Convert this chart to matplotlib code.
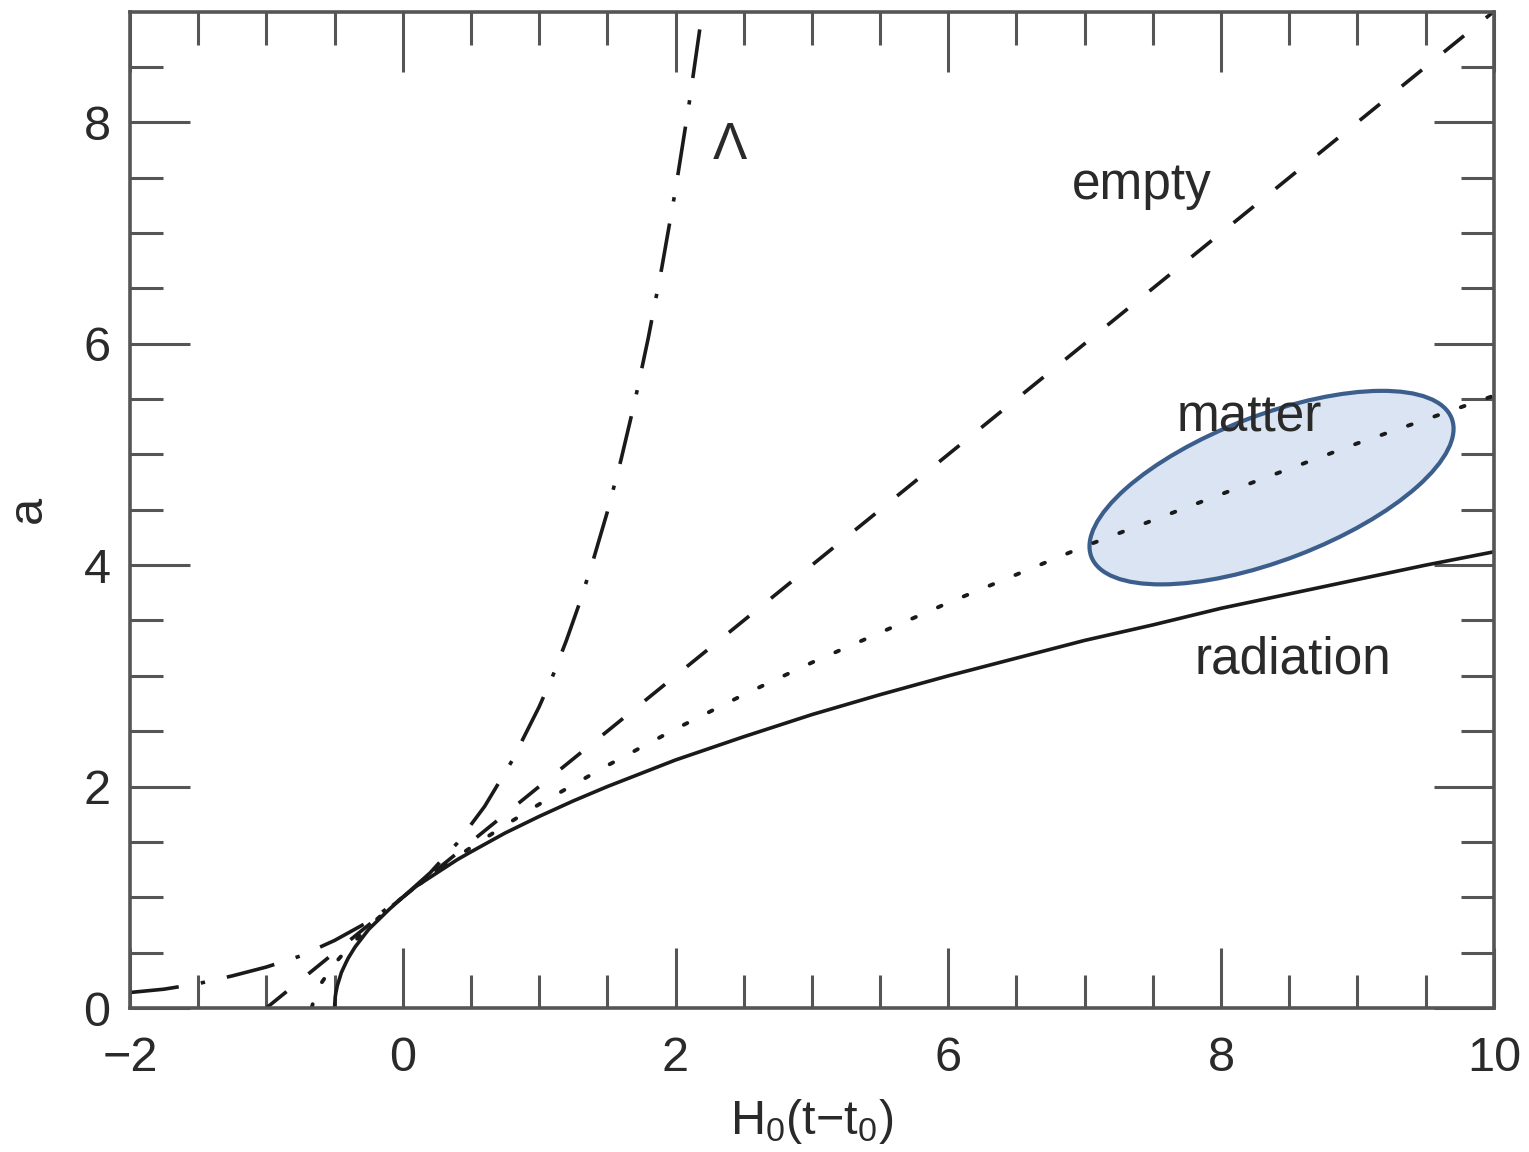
import matplotlib
matplotlib.use("Agg")
import matplotlib.pyplot as plt
from matplotlib.patches import Ellipse
from matplotlib.transforms import ScaledTranslation

plt.rcParams['font.family'] = ['Liberation Sans', 'DejaVu Sans']
plt.rcParams['mathtext.default'] = 'regular'

# values, x = H0(t - t0)
rad_x = [-0.5, -0.495, -0.49, -0.48, -0.47, -0.45, -0.42, -0.4, -0.35, -0.3, -0.25, -0.2, -0.1, 0, 0.1, 0.25, 0.4,
         0.5, 0.75, 1, 1.25, 1.5, 1.75, 2, 2.5, 3, 3.5, 4, 4.5, 5, 5.5, 6, 6.5, 7, 7.5, 8]
rad_a = [0.0, 0.10, 0.14, 0.20, 0.24, 0.32, 0.40, 0.45, 0.55, 0.63, 0.71, 0.77, 0.89, 1.0, 1.10, 1.22, 1.34,
         1.41, 1.58, 1.73, 1.87, 2.0, 2.12, 2.24, 2.45, 2.65, 2.83, 3.0, 3.16, 3.32, 3.46, 3.61, 3.74, 3.87, 4.0, 4.12]

mat_x = [-0.667, -0.65, -0.6, -0.5, -0.4, -0.3, -0.2, -0.1, 0, 0.25, 0.5, 0.75, 1, 1.5, 2, 2.5, 3, 4, 5, 6, 7, 8]
mat_a = [0.0, 0.09, 0.22, 0.40, 0.54, 0.67, 0.79, 0.90, 1.0, 1.24, 1.45, 1.65, 1.84, 2.19, 2.52, 2.83, 3.12, 3.66,
         4.17, 4.64, 5.10, 5.53]

emp_x = [-1, 0, 2, 4, 6, 8]
emp_a = [0, 1, 3, 5, 7, 9]

lam_x = [-2, -1.75, -1.5, -1.25, -1, -0.75, -0.5, -0.25, 0, 0.2, 0.4, 0.6, 0.8, 1, 1.1, 1.2, 1.3, 1.4, 1.5, 1.6,
         1.7, 1.8, 1.9, 2, 2.1, 2.2]
lam_a = [0.14, 0.17, 0.22, 0.29, 0.37, 0.47, 0.61, 0.78, 1.0, 1.22, 1.49, 1.82, 2.23, 2.72, 3.0, 3.32, 3.67, 4.06,
         4.48, 4.95, 5.47, 6.05, 6.69, 7.39, 8.17, 9.03]

x_ticks = [-2, 0, 2, 4, 6, 8]
x_ticklabels = ['\u22122', '0', '2', '6', '8', '10']
y_ticks = [0, 2, 4, 6, 8]

labels = ['\u039b', 'empty', 'matter', 'radiation']
label_x = [2.40, 5.42, 6.21, 6.53]
label_y = [7.79, 7.43, 5.33, 3.14]

fig = plt.figure(figsize=(15.29, 11.52), dpi=100)
ax = fig.add_axes([0.085, 0.125, 0.892, 0.865])

lc = '#1a1a1a'
ax.plot(rad_x, rad_a, color=lc, lw=2.6)
ax.plot(mat_x, mat_a, color=lc, lw=2.8, linestyle=(0, (1, 6.2)), dash_capstyle='round')
ax.plot(emp_x, emp_a, color=lc, lw=2.6, linestyle=(0, (7.2, 7.8)))
ax.plot(lam_x, lam_a, color=lc, lw=2.6, linestyle=(0, (13.6, 6.2, 1.2, 6.2)))

for t, x, y in zip(labels, label_x, label_y):
    ax.text(x, y, t, fontsize=37, color='#2a2a2a', ha='center', va='center')

ax.set_xlim(-2, 8)
ax.set_ylim(0, 9)
ax.set_xticks(x_ticks)
ax.set_xticklabels(x_ticklabels)
ax.set_yticks(y_ticks)
ax.set_xticks([v / 2 for v in range(-4, 17)], minor=True)
ax.set_yticks([v / 2 for v in range(0, 18)], minor=True)
ax.tick_params(which='both', direction='in', top=True, right=True, color='#555555', width=2.2)
ax.tick_params(which='major', length=43, labelsize=35, labelcolor='#2a2a2a')
ax.tick_params(axis='x', which='major', pad=20)
ax.tick_params(axis='y', which='major', pad=14)
ax.tick_params(which='minor', length=24)
for s in ax.spines.values():
    s.set_color('#555555')
    s.set_linewidth(2.6)

ax.set_xlabel('H$_0$(t\u2212t$_0$)', fontsize=35, color='#2a2a2a', labelpad=12)
ax.set_ylabel('a', fontsize=35, color='#2a2a2a')
ax.yaxis.set_label_coords(-0.058, 0.5)

# highlight ellipse drawn in inches around a data point
trans = fig.dpi_scale_trans + ScaledTranslation(6.37, 4.70, ax.transData)
ell = Ellipse((0, 0), 3.86, 1.45, angle=21, transform=trans,
              facecolor=(0.80, 0.85, 0.93, 0.7), edgecolor='#3b5e8c', lw=3, clip_on=False)
ax.add_patch(ell)

fig.savefig('out.png', dpi=100)
